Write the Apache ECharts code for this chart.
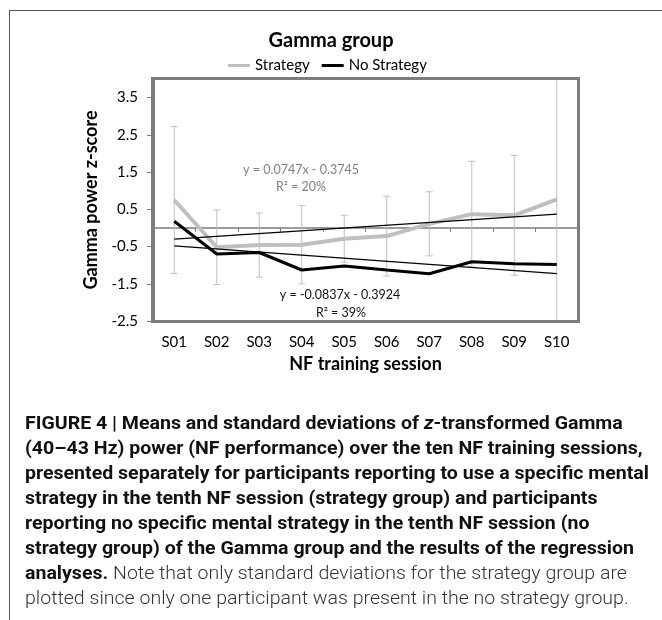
<!DOCTYPE html>
<html lang="en">
  <head>
    <meta charset="UTF-8" />
    <title>Gamma group</title>
    <script src="https://cdn.jsdelivr.net/npm/echarts@6/dist/echarts.min.js"></script>
    <style>
      html, body { margin: 0; background: #fff; overflow: hidden; }
      #main { position: absolute; left: 0; top: 0; width: 662px; height: 400px; }
      #frame { position: absolute; left: 9px; top: 10px; width: 800px; height: 800px; pointer-events: none;
        border-left: 1.5px solid #555; border-top: 1.5px solid #555; }
      /* gray border round the plot area */
      #plotbox { position: absolute; left: 151px; top: 77px; width: 429px; height: 246px; pointer-events: none;
        box-sizing: border-box; border: 3px solid #7c7c7c; z-index: 5; }
      #caption { position: absolute; left: 25px; top: 410px; font-family: Roboto, sans-serif;
        font-size: 18px; line-height: 25px; white-space: nowrap; transform-origin: 0 0; color: #111; }
      #caption b { font-weight: bold; }
      #caption .note { font-weight: 300; color: #333; }
    </style>
  </head>
  <body>
    <div id="main"></div>
    <div id="frame"></div>
    <div id="plotbox"></div>
    <div id="caption">
      <div><b>FIGURE 4 | Means and standard deviations of <i>z</i>-transformed Gamma</b></div>
      <div><b>(40–43 Hz) power (NF performance) over the ten NF training sessions,</b></div>
      <div id="longest"><b>presented separately for participants reporting to use a specific mental</b></div>
      <div><b>strategy in the tenth NF session (strategy group) and participants</b></div>
      <div><b>reporting no specific mental strategy in the tenth NF session (no</b></div>
      <div><b>strategy group) of the Gamma group and the results of the regression</b></div>
      <div><b>analyses.</b> <span class="note">Note that only standard deviations for the strategy group are</span></div>
      <div><span class="note">plotted since only one participant was present in the no strategy group.</span></div>
    </div>
    <script>
      // sessions S01..S10
      var sessions = ["S01", "S02", "S03", "S04", "S05", "S06", "S07", "S08", "S09", "S10"];
      // means (z-score)
      var strategy = [0.75, -0.52, -0.46, -0.45, -0.29, -0.22, 0.11, 0.37, 0.34, 0.77];
      var strategySD = [1.97, 1.0, 0.86, 1.05, 0.63, 1.07, 0.86, 1.42, 1.61, 3.6];
      var noStrategy = [0.18, -0.7, -0.66, -1.13, -1.02, -1.13, -1.23, -0.91, -0.96, -0.98];
      // linear trend lines, value at S01 and at S10
      var trendStrategy = [-0.3, 0.37];
      var trendNoStrategy = [-0.48, -1.23];
      var yTicks = [-2.5, -1.5, -0.5, 0.5, 1.5, 2.5, 3.5];

      var font = "Lato";
      var axisGray = "#7c7c7c";
      var lightGray = "#bfbfbf";

      var myChart = echarts.init(document.getElementById("main"));

      var errData = strategy.map(function (v, i) {
        return [i, v - strategySD[i], v + strategySD[i]];
      });

      var option = {
        animation: false,
        backgroundColor: "transparent",
        title: {
          text: "Gamma group",
          left: "center",
          top: 26,
          textStyle: { fontFamily: font, fontWeight: "bold", fontSize: 20, color: "#000" },
        },
        legend: {
          data: ["Strategy", "No Strategy"],
          left: 223,
          top: 53,
          icon: "rect",
          itemWidth: 22,
          itemHeight: 3,
          itemGap: 12,
          textStyle: { fontFamily: font, fontSize: 15, color: "#000" },
        },
        grid: {
          left: 153,
          top: 79,
          width: 425,
          height: 242,
        },
        xAxis: [
          {
            type: "category",
            data: sessions,
            position: "bottom",
            axisLine: { show: false, onZero: false },
            axisTick: { show: false },
            axisLabel: { margin: 14, fontFamily: font, fontSize: 15, color: "#000" },
            name: "NF training session",
            nameLocation: "middle",
            nameGap: 33,
            nameTextStyle: { fontFamily: font, fontWeight: "bold", fontSize: 18, color: "#000" },
          },
          {
            // the line at y = 0 with its ticks
            type: "category",
            data: sessions,
            position: "bottom",
            axisLine: { show: true, onZero: true, lineStyle: { color: axisGray, width: 1.5 } },
            axisTick: { show: true, length: 4, lineStyle: { color: axisGray } },
            axisLabel: { show: false },
          },
        ],
        yAxis: {
          type: "value",
          min: -2.5,
          max: 4,
          interval: 1,
          splitLine: { show: false },
          axisLine: { show: true, lineStyle: { color: axisGray, width: 3 } },
          axisTick: { show: true, length: 6, customValues: yTicks, lineStyle: { color: axisGray } },
          axisLabel: {
            margin: 15,
            customValues: yTicks,
            fontFamily: font,
            fontSize: 15,
            color: "#000",
            formatter: function (v) {
              return v.toFixed(1);
            },
          },
          name: "Gamma power z-score",
          nameLocation: "middle",
          nameGap: 40,
          nameTextStyle: { fontFamily: font, fontWeight: "bold", fontSize: 18, color: "#000" },
        },
        graphic: [
          {
            type: "text",
            x: 301,
            y: 170,
            style: { text: "y = 0.0747x - 0.3745", fill: "#808080", font: "12.5px Lato",
              textAlign: "center", textVerticalAlign: "middle", align: "center", verticalAlign: "middle" },
          },
          {
            type: "text",
            x: 301,
            y: 187,
            style: { text: "R² = 20%", fill: "#808080", font: "12.5px Lato",
              textAlign: "center", textVerticalAlign: "middle", align: "center", verticalAlign: "middle" },
          },
          {
            type: "text",
            x: 340,
            y: 295,
            style: { text: "y = -0.0837x - 0.3924", fill: "#111", font: "12.5px Lato",
              textAlign: "center", textVerticalAlign: "middle", align: "center", verticalAlign: "middle" },
          },
          {
            type: "text",
            x: 341,
            y: 313,
            style: { text: "R² = 39%", fill: "#111", font: "12.5px Lato",
              textAlign: "center", textVerticalAlign: "middle", align: "center", verticalAlign: "middle" },
          },
        ],
        series: [
          {
            type: "custom",
            name: "SD",
            z: 1,
            data: errData,
            renderItem: function (params, api) {
              var i = api.value(0);
              var lo = api.coord([i, api.value(1)]);
              var hi = api.coord([i, api.value(2)]);
              var cs = params.coordSys;
              var top = Math.max(hi[1], cs.y);
              var bot = Math.min(lo[1], cs.y + cs.height);
              var st = { stroke: lightGray, lineWidth: 1 };
              var kids = [{ type: "line", shape: { x1: lo[0], y1: top, x2: lo[0], y2: bot }, style: st }];
              if (hi[1] >= cs.y) kids.push({ type: "line", shape: { x1: hi[0] - 3.5, y1: hi[1], x2: hi[0] + 3.5, y2: hi[1] }, style: st });
              if (lo[1] <= cs.y + cs.height) kids.push({ type: "line", shape: { x1: lo[0] - 3.5, y1: lo[1], x2: lo[0] + 3.5, y2: lo[1] }, style: st });
              return { type: "group", children: kids };
            },
          },
          {
            type: "line",
            name: "Strategy",
            z: 3,
            data: strategy,
            symbol: "none",
            color: lightGray,
            lineStyle: { color: lightGray, width: 4 },
          },
          {
            type: "line",
            name: "No Strategy",
            z: 4,
            data: noStrategy,
            symbol: "none",
            color: "#000",
            lineStyle: { color: "#000", width: 3 },
          },
          {
            type: "line",
            name: "trend strategy",
            z: 5,
            data: [[0, trendStrategy[0]], [9, trendStrategy[1]]],
            symbol: "none",
            lineStyle: { color: "#000", width: 1.2 },
          },
          {
            type: "line",
            name: "trend no strategy",
            z: 5,
            data: [[0, trendNoStrategy[0]], [9, trendNoStrategy[1]]],
            symbol: "none",
            lineStyle: { color: "#000", width: 1.2 },
          },
        ],
      };
      myChart.setOption(option);

      // squeeze the caption like the condensed journal font
      var cap = document.getElementById("caption");
      var w = document.getElementById("longest").firstChild.getBoundingClientRect().width;
      cap.style.transform = "scaleX(" + 624 / w + ")";
    </script>
  </body>
</html>
